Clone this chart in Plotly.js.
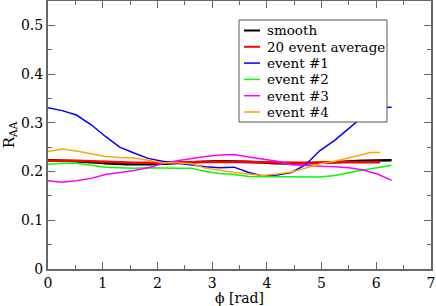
<!DOCTYPE html>
<html>
<head>
<meta charset="utf-8">
<script src="https://cdn.plot.ly/plotly-3.0.1.min.js"></script>
<style>html,body{margin:0;padding:0;background:#fff}#chart{width:436px;height:306px}</style>
</head>
<body>
<div id="chart"></div>
<script>
// ---- data ----
const phi = [0, 0.26, 0.52, 0.79, 1.05, 1.31, 1.57, 1.83, 2.09, 2.36, 2.62, 2.88, 3.14, 3.40, 3.67, 3.93, 4.19, 4.45, 4.71, 4.97, 5.24, 5.50, 5.76, 6.02, 6.28];
const phiSmooth = [0, 0.52, 1.05, 1.57, 2.09, 2.62, 3.14, 3.67, 4.19, 4.71, 5.24, 5.76, 6.28];
const smooth = [0.223, 0.221, 0.217, 0.215, 0.216, 0.219, 0.221, 0.220, 0.217, 0.217, 0.219, 0.222, 0.223];
const phiAvg = [0, 0.52, 1.05, 1.57, 2.09, 2.62, 3.14, 3.67, 4.19, 4.71, 5.24, 5.76, 6.07];
const avg20 = [0.222, 0.222, 0.220, 0.218, 0.218, 0.219, 0.220, 0.219, 0.218, 0.218, 0.219, 0.219, 0.219];
const event1 = [0.331, 0.325, 0.316, 0.296, 0.272, 0.250, 0.238, 0.227, 0.221, 0.217, 0.213, 0.210, 0.208, 0.209, 0.198, 0.191, 0.193, 0.198, 0.214, 0.243, 0.264, 0.289, 0.313, 0.331, 0.332];
const event2 = [0.215, 0.217, 0.217, 0.213, 0.209, 0.208, 0.207, 0.208, 0.207, 0.207, 0.207, 0.200, 0.196, 0.194, 0.190, 0.190, 0.190, 0.190, 0.189, 0.189, 0.192, 0.198, 0.203, 0.208, 0.213];
const event3 = [0.181, 0.178, 0.181, 0.186, 0.194, 0.198, 0.202, 0.208, 0.216, 0.222, 0.227, 0.231, 0.234, 0.235, 0.230, 0.225, 0.221, 0.214, 0.212, 0.211, 0.210, 0.208, 0.203, 0.195, 0.182];
const phi4 = [0, 0.26, 0.52, 0.79, 1.05, 1.31, 1.57, 1.83, 2.09, 2.36, 2.62, 2.88, 3.14, 3.40, 3.67, 3.93, 4.19, 4.45, 4.71, 4.97, 5.24, 5.50, 5.76, 5.90, 6.07];
const event4 = [0.241, 0.246, 0.242, 0.237, 0.231, 0.229, 0.228, 0.223, 0.218, 0.218, 0.216, 0.207, 0.202, 0.198, 0.195, 0.192, 0.195, 0.199, 0.207, 0.216, 0.221, 0.228, 0.235, 0.239, 0.239];
const names = ["smooth", "20 event average", "event #1", "event #2", "event #3", "event #4"];
const xTickLabels = ["0", "1", "2", "3", "4", "5", "6", "7"];
const yTickLabels = ["0", "0.1", "0.2", "0.3", "0.4", "0.5"];

// ---- styles ----
const colors = ["#000000", "#ff0000", "#0000ff", "#00ff00", "#ff00ff", "#ffa500"];
const widths = [2.5, 2.5, 1.5, 1.5, 1.5, 1.5];
const xs = [phiSmooth, phiAvg, phi, phi, phi, phi4];
const ys = [smooth, avg20, event1, event2, event3, event4];
const font = "DejaVu Serif";

const traces = names.map((n, i) => ({
  x: xs[i], y: ys[i], name: n, type: "scatter", mode: "lines",
  line: {color: colors[i], width: widths[i], shape: i === 0 ? "spline" : "linear"},
  showlegend: false, hoverinfo: "skip"
}));

const W = 436, H = 306, mL = 48, mR = 5, mT = 1, mB = 37;
const pw = W - mL - mR, ph = H - mT - mB;
const px2x = p => (p - mL) / pw;
const py2y = p => (H - mB - p) / ph;

const shapes = [{
  type: "rect", xref: "paper", yref: "paper",
  x0: px2x(239), x1: px2x(387), y0: py2y(122), y1: py2y(20),
  line: {color: "#555", width: 1}, fillcolor: "#fff", layer: "above"
}];
const annotations = [];
names.forEach((n, i) => {
  const yy = 30.5 + i * 16.3;
  shapes.push({type: "line", xref: "paper", yref: "paper",
    x0: px2x(244), x1: px2x(260), y0: py2y(yy), y1: py2y(yy),
    line: {color: colors[i], width: i < 2 ? 2 : 1.5}, layer: "above"});
  annotations.push({xref: "paper", yref: "paper", x: px2x(265), y: py2y(yy),
    xanchor: "left", yanchor: "middle", showarrow: false, text: n,
    font: {family: font, size: 13.5, color: "#000"}});
});

const axisCommon = {
  showgrid: false, zeroline: false, showline: true, linecolor: "#666", linewidth: 2,
  mirror: "ticks", ticks: "inside", ticklen: 7, tickwidth: 1, tickcolor: "#666",
  tickfont: {family: font, size: 14, color: "#000"},
  minor: {ticks: "inside", ticklen: 4, tickwidth: 1, tickcolor: "#666", showgrid: false}
};

const layout = {
  width: W, height: H,
  margin: {l: mL, r: mR, t: mT, b: mB},
  paper_bgcolor: "#fff", plot_bgcolor: "#fff",
  font: {family: font, color: "#000"},
  xaxis: Object.assign({}, axisCommon, {
    range: [0, 7], tickmode: "array", tickvals: xTickLabels.map(Number), ticktext: xTickLabels,
    minor: Object.assign({}, axisCommon.minor, {dtick: 0.5}),
    title: {text: "ϕ [rad]", font: {family: font, size: 14, color: "#000"}, standoff: 0}
  }),
  yaxis: Object.assign({}, axisCommon, {
    range: [0, 0.55], tickmode: "array", tickvals: yTickLabels.map(Number), ticktext: yTickLabels,
    minor: Object.assign({}, axisCommon.minor, {dtick: 0.05}),
    title: {text: "R<sub>AA</sub>", font: {family: font, size: 15, color: "#000"}, standoff: 5}
  }),
  shapes: shapes,
  annotations: annotations,
  showlegend: false
};

Plotly.newPlot("chart", traces, layout, {staticPlot: true, displayModeBar: false});
</script>
</body>
</html>
